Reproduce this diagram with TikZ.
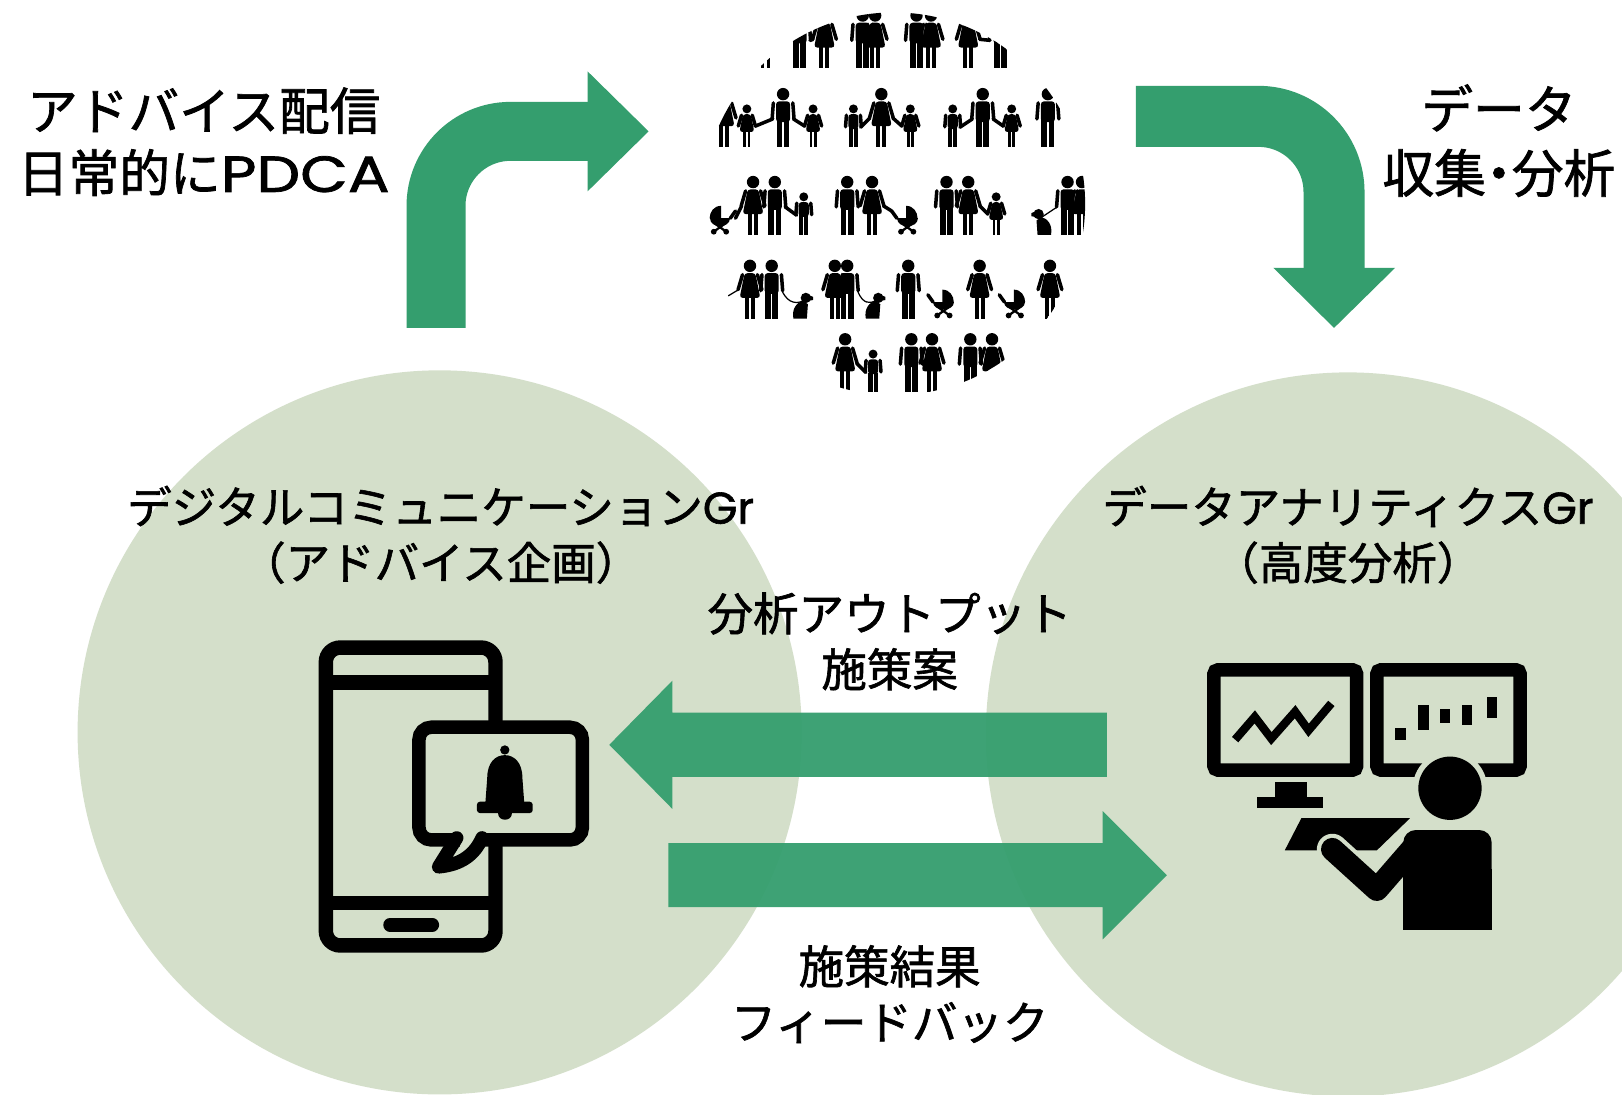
\documentclass[tikz,border=0pt]{standalone}
\usepackage{fontspec}
\newfontfamily\jp[FakeBold=1.4]{Noto Sans CJK JP}
\newfontfamily\jpp[FakeBold=1.4, RawFeature=+palt]{Noto Sans CJK JP}
\newfontfamily\lat[FakeBold=1.4]{Poppins}
\definecolor{sage}{HTML}{D4DFCA}
\definecolor{leaf}{HTML}{349E6E}
\tikzset{
  disc/.style={circle, fill=sage, minimum size=350pt, inner sep=0pt},
  txt/.style={align=center, inner sep=0pt, text=black},
  ink/.style={draw=black, line width=7pt},
  limb/.style={line width=1.7pt, line cap=round},
  leash/.style={line width=0.6pt},
  man/.pic={
    \fill (0,-51) circle (6);
    \fill[rounded corners=1.5pt] (-6.8,-24) -- (-6.8,-44) -- (6.8,-44) -- (6.8,-24) -- cycle;
    \fill (-6.2,-26) rectangle (-0.7,0);
    \fill (0.7,-26) rectangle (6.2,0);
    \draw[limb] (-9.4,-42.5) -- (-10.6,-27);
    \draw[limb] (9.4,-42.5) -- (10.6,-27);
  },
  woman/.pic={
    \fill (0,-51) circle (6);
    \fill[rounded corners=1.5pt] (-5.2,-44) -- (5.2,-44) -- (10,-20) -- (-10,-20) -- cycle;
    \fill (-4.8,-21) rectangle (-1,0);
    \fill (1,-21) rectangle (4.8,0);
    \draw[limb] (-7.2,-42.5) -- (-11.5,-28);
    \draw[limb] (7.2,-42.5) -- (11.5,-28);
  },
  stroller/.pic={
    \fill (-10,-16) -- (10,-16) .. controls (10,-6) and (-10,-6) .. (-10,-16) -- cycle;
    \fill (-1,-16) -- (-1,-28) .. controls (6,-28) and (10,-22) .. (10,-16) -- cycle;
    \draw[limb] (-10,-16) -- (-15,-23);
    \draw[line width=1.1pt] (-6,-3) -- (5,-11) (6,-3) -- (-5,-11);
    \fill (-6,-3) circle (2.8);
    \fill (6,-3) circle (2.8);
  },
  dog/.pic={
    \fill (-8,0) .. controls (-10,-10) and (-4,-16) .. (1,-17) -- (6,-14) -- (5,0) -- cycle;
    \fill (4,-20) circle (5);
    \fill (6,-23) -- (11,-21) -- (11,-18) -- (6,-17) -- cycle;
  }
}
\begin{document}
\begin{tikzpicture}[x=0.5pt, y=-0.5pt]
\useasboundingbox (0,0) rectangle (1568,1058);
\clip (0,0) rectangle (1568,1058);
\fill[white] (0,0) rectangle (1568,1058);

% the two groups
\node[disc] (advice) at (425,708) {};
\node[disc] (analytics) at (1303,710) {};

% crowd of people, cut to a round window
\node[circle, minimum size=185pt, inner sep=0pt] (crowd) at (864,197) {};
\begin{scope}
  \clip (crowd.center) circle (185);
  % row 1
  \pic at (740,66) {woman};
  \pic at (773,66) {man};
  \pic at (797,66) {woman};
  \draw[limb] (783,39) -- (786,38);
  \pic at (834,66) {man};
  \pic at (846,66) {woman};
  \pic at (886,66) {man};
  \pic at (900,66) {woman};
  \pic at (936,66) {woman};
  \pic at (967,66) {man};
  \draw[limb] (947,38) -- (957,39);
  % row 2
  \pic at (700,142) {woman};
  \pic[scale=0.72] at (722,142) {woman};
  \pic at (757,142) {man};
  \pic[scale=0.72] at (786,142) {woman};
  \draw[limb] (730,122) -- (747,115);
  \draw[limb] (767,115) -- (778,122);
  \pic[scale=0.72] at (825,142) {man};
  \pic at (852,142) {woman};
  \pic[scale=0.72] at (880,142) {woman};
  \draw[limb] (832,123) -- (841,114);
  \draw[limb] (863,114) -- (872,122);
  \pic[scale=0.72] at (921,142) {man};
  \pic at (950,142) {man};
  \pic[scale=0.72] at (978,142) {woman};
  \draw[limb] (928,123) -- (940,115);
  \draw[limb] (960,115) -- (970,122);
  \pic at (1013,142) {man};
  % row 3
  \pic[xscale=-1] at (696,227) {stroller};
  \pic at (728,227) {woman};
  \pic at (749,227) {man};
  \pic[scale=0.72] at (777,227) {man};
  \draw[limb] (711,211) -- (717,199);
  \draw[limb] (759,200) -- (770,208);
  \pic at (819,227) {man};
  \pic at (843,227) {woman};
  \pic at (877,227) {stroller};
  \draw[limb] (854,199) -- (862,204);
  \pic at (915,227) {man};
  \pic at (936,227) {woman};
  \pic[scale=0.72] at (963,227) {woman};
  \draw[limb] (947,199) -- (955,207);
  \pic[xscale=-1] at (1008,227) {dog};
  \pic at (1032,227) {man};
  \pic at (1046,227) {woman};
  \draw[leash] (1007,210) -- (1022,200);
  % row 4
  \pic at (725,308) {woman};
  \pic at (746,308) {man};
  \pic at (775,308) {dog};
  \draw[leash] (756,281) .. controls (762,295) and (772,293) .. (776,291);
  \draw[leash] (714,280) -- (704,286);
  \pic at (807,308) {woman};
  \pic at (819,308) {man};
  \pic at (845,308) {dog};
  \draw[leash] (829,281) .. controls (834,295) and (842,293) .. (846,291);
  \pic at (878,308) {man};
  \pic at (912,308) {stroller};
  \pic at (947,308) {woman};
  \pic at (981,308) {stroller};
  \pic at (1015,308) {woman};
  % row 5
  \pic[scale=0.6] at (772,379) {dog};
  \pic at (817,379) {woman};
  \pic[scale=0.72] at (844,379) {man};
  \draw[limb] (828,351) -- (837,360);
  \pic at (881,379) {man};
  \pic at (901,379) {woman};
  \pic at (938,379) {man};
  \pic at (959,379) {woman};
\end{scope}

% bent arrow up and right
\draw[leaf, line width=28.5pt, rounded corners=36pt] (421.5,317) -- (421.5,127) -- (569,127);
\fill[leaf] (568,69) -- (627,127) -- (568,185) -- cycle;

% bent arrow right and down
\draw[leaf, line width=29.5pt, rounded corners=36.5pt] (1098,112.5) -- (1289.6,112.5) -- (1289.6,260);
\fill[leaf] (1231,259) -- (1348.6,259) -- (1289.6,317) -- cycle;

% straight arrows between the groups
\fill[leaf, fill opacity=0.95] (1070,689) -- (650,689) -- (650,658) -- (589,720) -- (650,782) -- (650,751) -- (1070,751) -- cycle;
\fill[leaf, fill opacity=0.95] (646,815) -- (1066,815) -- (1066,784) -- (1128,846) -- (1066,908) -- (1066,877) -- (646,877) -- cycle;

% phone with notification bubble
\draw[ink, rounded corners=7pt] (315,626) rectangle (479,914);
\draw[ink] (315,660) -- (479,660);
\draw[ink] (315,873) -- (479,873);
\draw[black, line width=6.5pt, line cap=round] (377,894) -- (418,894);
\filldraw[fill=sage, draw=black, line width=6.5pt, rounded corners=6pt] (405,703) rectangle (563,812);
\fill[sage] (445,805) rectangle (462.5,819);
\draw[black, line width=6.5pt, line cap=round, line join=round] (441.5,810) -- (424,838) .. controls (446,836) and (459,826) .. (466,810);
\fill (488,725) circle (4.5);
\fill (469,779) -- (471,752) .. controls (471,737) and (479,730) .. (488,730) .. controls (497,730) and (505,737) .. (505,752) -- (507,779) -- cycle;
\fill[rounded corners=1.5pt] (461,775) rectangle (515,786);
\fill (481,786) .. controls (481,795) and (495,795) .. (495,786) -- cycle;

% analyst at two monitors
\draw[black, line width=6.5pt, rounded corners=2pt] (1173.5,647.5) rectangle (1311.5,744.5);
\draw[black, line width=6.5pt, rounded corners=2pt] (1331,647.5) rectangle (1469.5,744.5);
\draw[black, line width=4pt] (1194,715) -- (1213,693) -- (1229,714) -- (1252,688) -- (1265,706) -- (1287,680);
\fill (1349,704) rectangle (1359,715);
\fill (1371,682) rectangle (1381,706);
\fill (1392,685) rectangle (1402,699);
\fill (1413,682) rectangle (1423,701);
\fill (1437,674) rectangle (1447,694);
\fill (1233,756) rectangle (1263,771);
\fill (1215,770) rectangle (1279,781);
\fill (1258,791) -- (1363,791) -- (1331,822) -- (1242,822) -- cycle;
\draw[sage, line width=15pt, line cap=round, line join=round] (1288,821) -- (1331,860) -- (1370,815);
\fill[rounded corners=6pt] (1356.6,802.4) rectangle (1442,860);
\fill (1356.6,840) rectangle (1442,899);
\draw[black, line width=11pt, line cap=round, line join=round] (1288,821) -- (1331,860) -- (1370,815);
\fill[sage] (1401.7,762) circle (36);
\fill (1401.7,762) circle (30.6);

% labels
\node[txt, font=\jp\fontsize{24.5pt}{30pt}\selectfont] (pdca) at (197,137) {アドバイス配信\\日常的に{\lat\scalebox{1.22}[1]{PDCA}}};
\node[txt, font=\jp\fontsize{25pt}{31pt}\selectfont] (collect) at (1449,136) {データ\\{\jpp 収集・分析}};
\node[txt, font=\jp\fontsize{21.5pt}{27pt}\selectfont] (dcgr) at (426,517) {デジタルコミュニケーション{\lat Gr}\\（アドバイス企画）};
\node[txt, font=\jp\fontsize{21.5pt}{27pt}\selectfont] (dagr) at (1303,517) {データアナリティクス{\lat Gr}\\（高度分析）};
\node[txt, font=\jp\fontsize{22pt}{27pt}\selectfont] (output) at (860,620) {分析アウトプット\\施策案};
\node[txt, font=\jp\fontsize{22pt}{27pt}\selectfont] (result) at (860,961) {施策結果\\フィードバック};
\end{tikzpicture}
\end{document}
